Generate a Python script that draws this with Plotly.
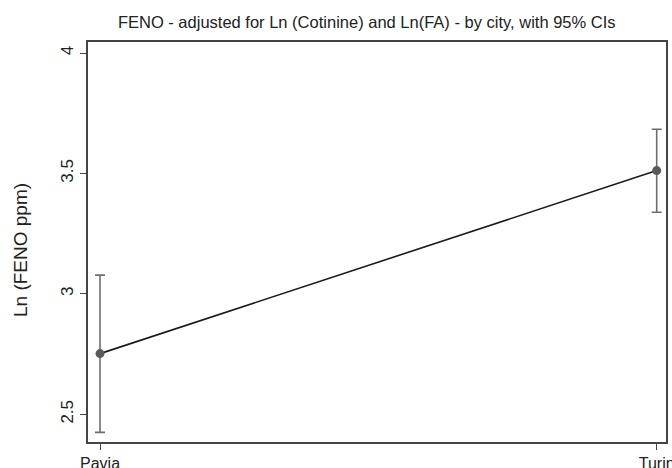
import plotly.graph_objects as go

cities = ["Pavia", "Turin"]
means = [2.752, 3.512]
ci_low = [2.425, 3.339]
ci_high = [3.078, 3.684]
y_ticks = [2.5, 3, 3.5, 4]
y_tick_labels = ["2.5", "3", "3.5", "4"]

err_plus = [h - m for h, m in zip(ci_high, means)]
err_minus = [m - l for m, l in zip(means, ci_low)]

FONT = "Arial, Liberation Sans, sans-serif"

fig = go.Figure()
fig.add_trace(go.Scatter(
    x=cities, y=means, mode="lines+markers",
    line=dict(color="#1a1a1a", width=1.6),
    marker=dict(color="#5a5a5a", size=9),
    error_y=dict(type="data", symmetric=False, array=err_plus, arrayminus=err_minus,
                 color="#6e6e6e", thickness=1.6, width=5),
    showlegend=False,
))

fig.update_layout(
    width=672, height=468,
    margin=dict(l=88, r=6, t=42, b=26, autoexpand=False),
    paper_bgcolor="white", plot_bgcolor="white",
    font=dict(family=FONT, color="#222222", size=16),
    title=dict(text="FENO - adjusted for Ln (Cotinine) and Ln(FA) - by city, with 95% CIs",
               x=366.7 / 672, xanchor="center", xref="container",
               y=1 - 22 / 468, yanchor="middle", yref="container",
               font=dict(size=16.5, family=FONT, color="#222222")),
)
fig.update_xaxes(
    type="category", range=[-0.0216, 1.0167], automargin=False,
    showline=True, mirror=True, linecolor="#444444", linewidth=1.5,
    ticks="outside", ticklen=6, tickcolor="#444444", tickwidth=1.2,
    showgrid=False, zeroline=False,
    tickfont=dict(size=16, family=FONT, color="#222222"),
)
fig.update_yaxes(
    range=[2.385, 4.046], automargin=False,
    tickvals=y_ticks, ticktext=y_tick_labels, tickangle=-90,
    showline=True, mirror=True, linecolor="#444444", linewidth=1.5,
    ticks="outside", ticklen=6, tickcolor="#444444", tickwidth=1.2,
    showgrid=False, zeroline=False,
    tickfont=dict(size=17, family=FONT, color="#222222"),
)
fig.add_annotation(
    text="Ln (FENO ppm)", textangle=-90, showarrow=False,
    xref="paper", yref="paper",
    x=(20 - 88) / 578, y=(442 - 250) / 400,
    xanchor="center", yanchor="middle",
    font=dict(size=19, family=FONT, color="#222222"),
)

fig.write_html(
    "out.html",
    config={"displayModeBar": False},
    post_script="document.body.style.margin='0';document.body.style.overflow='hidden';",
)
